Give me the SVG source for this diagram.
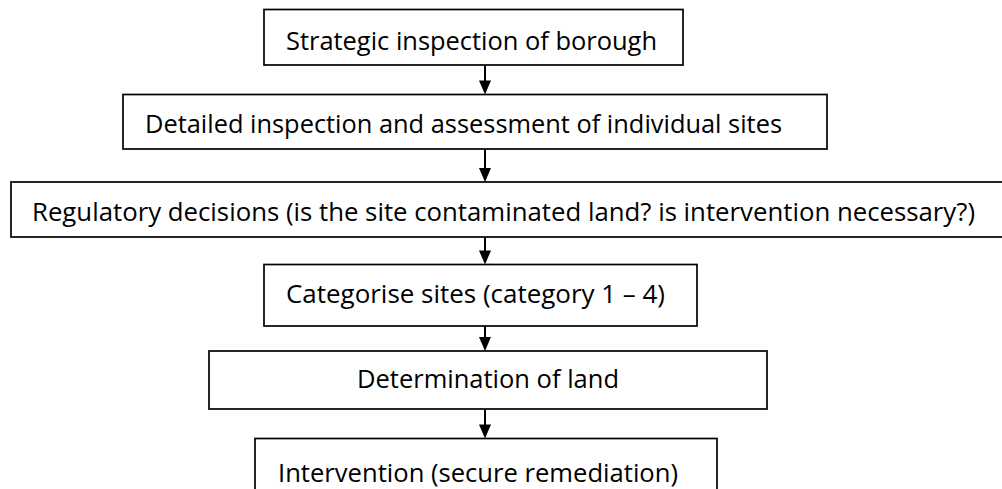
<svg xmlns="http://www.w3.org/2000/svg" width="1002" height="489" viewBox="0 0 1002 489">
<style>
.box{fill:#fff;stroke:#000;stroke-width:1.7}
.lbl{font-family:"Open Sans","Liberation Sans",sans-serif;font-size:25px;fill:#000}
.stem{stroke:#000;stroke-width:2;fill:none}
.head{fill:#000}
</style>
<rect width="1002" height="489" fill="#fff"/>
<g id="n1"><rect class="box" x="264" y="9.5" width="419" height="55.5"/><text class="lbl" x="286" y="49.5" textLength="371" lengthAdjust="spacingAndGlyphs">Strategic inspection of borough</text></g>
<g id="n2"><rect class="box" x="123" y="94.5" width="704" height="54.5"/><text class="lbl" x="145" y="133" textLength="637" lengthAdjust="spacingAndGlyphs">Detailed inspection and assessment of individual sites</text></g>
<g id="n3"><rect class="box" x="11" y="182" width="1010" height="55"/><text class="lbl" x="32" y="220.5" textLength="943" lengthAdjust="spacingAndGlyphs">Regulatory decisions (is the site contaminated land? is intervention necessary?)</text></g>
<g id="n4"><rect class="box" x="264" y="264.5" width="433" height="61.5"/><text class="lbl" x="286" y="303" textLength="379" lengthAdjust="spacingAndGlyphs">Categorise sites (category 1 – 4)</text></g>
<g id="n5"><rect class="box" x="209" y="351" width="558" height="58"/><text class="lbl" x="357" y="388" textLength="262" lengthAdjust="spacingAndGlyphs">Determination of land</text></g>
<g id="n6"><rect class="box" x="255" y="438.5" width="462" height="70"/><text class="lbl" x="278" y="482" textLength="400" lengthAdjust="spacingAndGlyphs">Intervention (secure remediation)</text></g>
<g id="connectors">
<line class="stem" x1="485" y1="65" x2="485" y2="82"/><polygon class="head" points="485,94.5 479,80.5 491,80.5"/>
<line class="stem" x1="485" y1="149" x2="485" y2="169"/><polygon class="head" points="485,182 479,168 491,168"/>
<line class="stem" x1="485" y1="237" x2="485" y2="252"/><polygon class="head" points="485,264.5 479,250.5 491,250.5"/>
<line class="stem" x1="485" y1="326" x2="485" y2="338"/><polygon class="head" points="485,351 479,337 491,337"/>
<line class="stem" x1="485" y1="409" x2="485" y2="425"/><polygon class="head" points="485,438.5 479,424.5 491,424.5"/>
</g>
</svg>
